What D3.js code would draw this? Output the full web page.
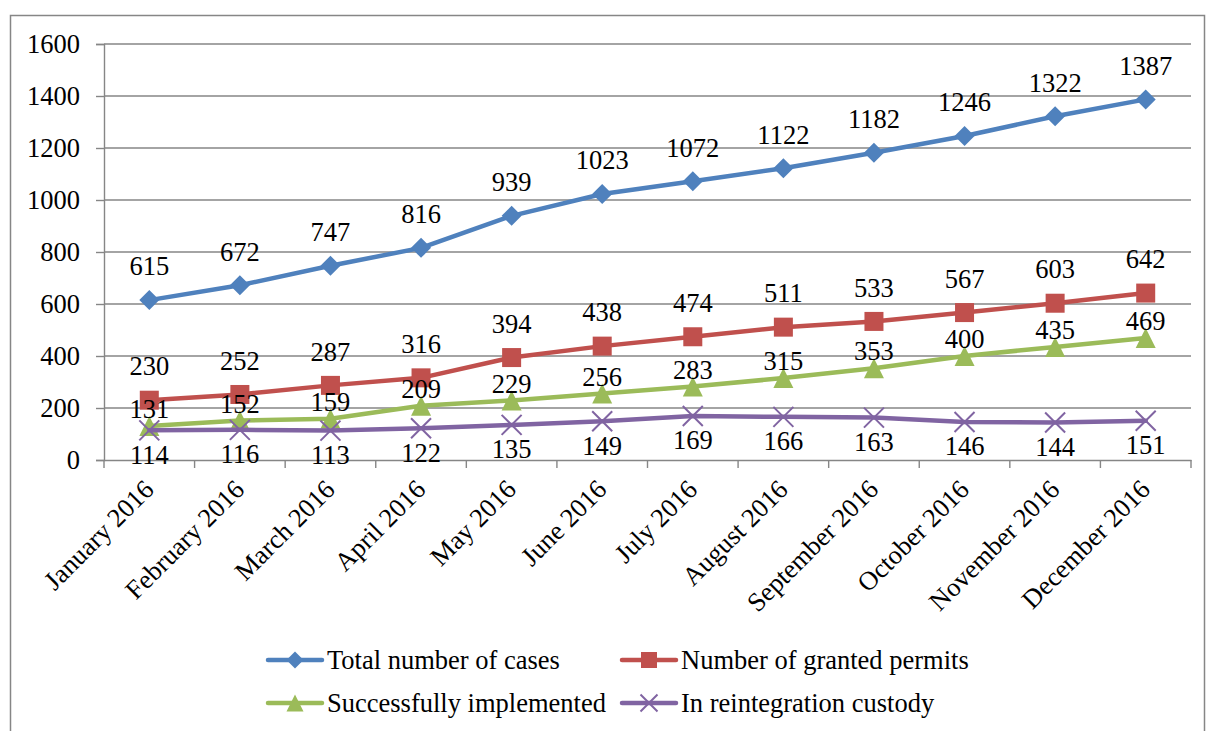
<!DOCTYPE html>
<html><head><meta charset="utf-8">
<script src="https://cdn.jsdelivr.net/npm/d3@7"></script>
</head><body style="margin:0"><svg id="c" width="1206" height="731" style="display:block;background:#fff" font-family="Liberation Serif, Tinos, Times New Roman, serif"></svg>
<script>
const categories = ["January 2016","February 2016","March 2016","April 2016","May 2016","June 2016","July 2016","August 2016","September 2016","October 2016","November 2016","December 2016"];
const totalCases = [615,672,747,816,939,1023,1072,1122,1182,1246,1322,1387];
const grantedPermits = [230,252,287,316,394,438,474,511,533,567,603,642];
const successfullyImplemented = [131,152,159,209,229,256,283,315,353,400,435,469];
const reintegrationCustody = [114,116,113,122,135,149,169,166,163,146,144,151];
const yTicks = [0,200,400,600,800,1000,1200,1400,1600];
const seriesNames = ["Total number of cases","Number of granted permits","Successfully implemented","In reintegration custody"];

const FONT = "Liberation Serif, Tinos, Times New Roman, serif";
const FS = 26.5;
const series = [
  {name:seriesNames[0], values:totalCases, color:"#4F81BD", marker:"diamond", labelDy:-34},
  {name:seriesNames[1], values:grantedPermits, color:"#C0504D", marker:"square", labelDy:-34},
  {name:seriesNames[2], values:successfullyImplemented, color:"#9BBB59", marker:"triangle", labelDy:-17},
  {name:seriesNames[3], values:reintegrationCustody, color:"#8064A2", marker:"x", labelDy:24}
];

const svg = d3.select("#c");
const grid = "#868686";
svg.append("rect").attr("x",10.5).attr("y",15.5).attr("width",1194).attr("height",740)
  .attr("fill","none").attr("stroke",grid).attr("stroke-width",1.5);

const x = d3.scaleBand().domain(categories).range([104,1191]);
const y = d3.scaleLinear().domain([0,1600]).range([460,44]);
const cx = c => x(c) + x.bandwidth()/2;

svg.append("g").selectAll("line").data(yTicks.filter(t=>t>0)).join("line")
  .attr("x1",104).attr("x2",1191).attr("y1",d=>y(d)).attr("y2",d=>y(d))
  .attr("stroke",grid).attr("stroke-width",1.4);

const yAxis = svg.append("g").attr("transform","translate(104,0)")
  .call(d3.axisLeft(y).tickValues(yTicks).tickSize(8).tickPadding(16).tickFormat(d3.format("d")));
yAxis.attr("font-family",FONT).attr("font-size",FS);
yAxis.select(".domain").attr("stroke",grid).attr("stroke-width",1.4);
yAxis.selectAll(".tick line").attr("stroke",grid).attr("stroke-width",1.4);
yAxis.selectAll("text").attr("font-family",FONT).attr("font-size",FS).attr("fill","#000");

const xAxis = svg.append("g").attr("transform","translate(0,460)")
  .call(d3.axisBottom(x).tickSize(0).tickFormat(""));
xAxis.attr("font-family",FONT);
xAxis.select(".domain").attr("stroke",grid).attr("stroke-width",1.4);
const bounds = categories.map(c=>x(c)).concat([x.range()[1]]);
xAxis.append("g").selectAll("line").data(bounds).join("line")
  .attr("x1",d=>d).attr("x2",d=>d).attr("y1",0).attr("y2",8)
  .attr("stroke",grid).attr("stroke-width",1.4);
svg.append("g").selectAll("text").data(categories).join("text")
  .attr("transform",d=>`translate(${cx(d)+6},${491}) rotate(-45)`)
  .attr("text-anchor","end").attr("font-family",FONT).attr("font-size",FS).text(d=>d);

function drawMarker(g, type, color, size){
  const s = size/2;
  if(type==="diamond"){
    g.append("path").attr("d",`M0,${-s}L${s},0L0,${s}L${-s},0Z`).attr("fill",color);
  } else if(type==="square"){
    g.append("rect").attr("x",-s+0.5).attr("y",-s+0.5).attr("width",size-1).attr("height",size-1).attr("fill",color);
  } else if(type==="triangle"){
    g.append("path").attr("d",`M0,${-s}L${s},${s}L${-s},${s}Z`).attr("fill",color);
  } else {
    g.append("path").attr("d",`M${-s},${-s}L${s},${s}M${s},${-s}L${-s},${s}`).attr("stroke",color).attr("stroke-width",2).attr("fill","none");
  }
}

const line = d3.line().x((d,i)=>cx(categories[i])).y(d=>y(d));
series.forEach(s=>{
  svg.append("path").datum(s.values).attr("d",line).attr("fill","none")
    .attr("stroke",s.color).attr("stroke-width",4.5).attr("stroke-linejoin","round").attr("stroke-linecap","round");
  s.values.forEach((v,i)=>{
    const g = svg.append("g").attr("transform",`translate(${cx(categories[i])},${y(v)})`);
    drawMarker(g, s.marker, s.color, 20);
  });
});
series.forEach(s=>{
  svg.append("g").selectAll("text").data(s.values).join("text")
    .attr("x",(d,i)=>cx(categories[i])).attr("y",d=>y(d)+s.labelDy)
    .attr("dy","0.35em").attr("text-anchor","middle")
    .attr("font-family",FONT).attr("font-size",FS).text(d=>d);
});

const legendItems = [
  {s:series[0], lx:268, ly:660},
  {s:series[1], lx:622, ly:660},
  {s:series[2], lx:268, ly:703},
  {s:series[3], lx:622, ly:703}
];
legendItems.forEach(it=>{
  const g = svg.append("g");
  g.append("line").attr("x1",it.lx).attr("x2",it.lx+54).attr("y1",it.ly).attr("y2",it.ly)
    .attr("stroke",it.s.color).attr("stroke-width",4.5).attr("stroke-linecap","round");
  const m = g.append("g").attr("transform",`translate(${it.lx+27},${it.ly})`);
  drawMarker(m, it.s.marker, it.s.color, 17);
  g.append("text").attr("x",it.lx+59).attr("y",it.ly).attr("dy","0.35em")
    .attr("font-family",FONT).attr("font-size",FS).text(it.s.name);
});
</script></body></html>
